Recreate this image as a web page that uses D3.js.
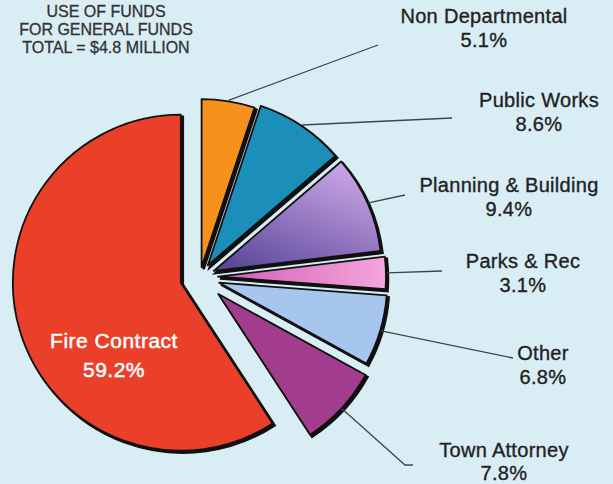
<!DOCTYPE html>
<html>
<head>
<meta charset="utf-8">
<title>Use of Funds</title>
<script src="https://d3js.org/d3.v7.min.js"></script>
<style>
  body { margin: 0; background: #d9edf5; }
  svg { display: block; }
  text { font-family: "Liberation Sans", Arial, sans-serif; }
</style>
</head>
<body>
<div id="chart"></div>
<script>
// data
var departments = ["Non Departmental", "Public Works", "Planning & Building", "Parks & Rec", "Other", "Town Attorney", "Fire Contract"];
var shares = [5.1, 8.6, 9.4, 3.1, 6.8, 7.8, 59.2];
var titleLines = ["USE OF FUNDS", "FOR GENERAL FUNDS", "TOTAL = $4.8 MILLION"];

// styling / layout
var fills = ["#f7911e", "#1b8fb9", "url(#gradPlan)", "url(#gradParks)", "#a6c6ee", "#a23d8d", "#ea3f29"];
var explode = [10, 14, 15, 18, 20, 25, 20];
// label centre x, first baseline y, leader end x, leader end y
var labelPos = [[484, 23, 378, 45], [539, 107, 452, 118], [509, 192, 405, 195], [523, 268, 442, 271], [543, 360, 513, 358], [504, 457, 413, 465]];

var width = 613, height = 484;
var cx = 200, cy = 277, R = 168;

var svg = d3.select("#chart").append("svg")
    .attr("width", width)
    .attr("height", height);

svg.append("rect").attr("width", width).attr("height", height).style("fill", "#d9edf5");

var defs = svg.append("defs");
var g1 = defs.append("linearGradient").attr("id", "gradPlan")
    .attr("x1", "0.8").attr("y1", "0").attr("x2", "0.2").attr("y2", "1");
g1.append("stop").attr("offset", "0").style("stop-color", "#cfa8e8");
g1.append("stop").attr("offset", "1").style("stop-color", "#5d4a9c");
var g2 = defs.append("linearGradient").attr("id", "gradParks")
    .attr("x1", "1").attr("y1", "0").attr("x2", "0").attr("y2", "0");
g2.append("stop").attr("offset", "0").style("stop-color", "#f4a6dc");
g2.append("stop").attr("offset", "1").style("stop-color", "#d35cb4");

var pie = d3.pie().sort(null).value(function(d) { return d; }).startAngle(0).endAngle(2 * Math.PI);
var arcs = pie(shares);
var arc = d3.arc().innerRadius(0).outerRadius(R);

function offset(d, i) {
  var a = (d.startAngle + d.endAngle) / 2;
  return [cx + explode[i] * Math.sin(a), cy - explode[i] * Math.cos(a)];
}

var slices = svg.selectAll(".slice")
    .data(arcs)
    .enter()
    .append("g")
    .attr("class", "slice")
    .attr("transform", function(d, i) { var o = offset(d, i); return "translate(" + o[0] + "," + o[1] + ")"; });

// dark shadow edge
slices.append("path")
    .attr("d", arc)
    .attr("transform", "translate(2,2)")
    .style("fill", "#111")
    .style("stroke", "#111")
    .style("stroke-width", 2.5);

slices.append("path")
    .attr("d", arc)
    .style("fill", function(d, i) { return fills[i]; })
    .style("stroke", "#111")
    .style("stroke-width", 1.8)
    .style("stroke-linejoin", "round");

// leader lines
var outside = arcs.slice(0, 6);
svg.selectAll(".leader")
    .data(outside)
    .enter()
    .append("polyline")
    .attr("points", function(d, i) {
      var a = (d.startAngle + d.endAngle) / 2;
      var o = offset(d, i);
      var sx = o[0] + (R + 1) * Math.sin(a), sy = o[1] - (R + 1) * Math.cos(a);
      var p = labelPos[i];
      if (i == 5) return sx + "," + sy + " " + (p[2] - 8) + "," + p[3] + " " + p[2] + "," + p[3];
      return sx + "," + sy + " " + p[2] + "," + p[3];
    })
    .style("fill", "none")
    .style("stroke", "#444")
    .style("stroke-width", 1.3);

// outside labels
var lbl = svg.selectAll(".lbl")
    .data(outside)
    .enter()
    .append("text")
    .attr("text-anchor", "middle")
    .style("font-size", "20px")
    .style("letter-spacing", "0.3px")
    .style("fill", "#222")
    .style("stroke", "#222")
    .style("stroke-width", 0.35);
lbl.append("tspan")
    .attr("x", function(d, i) { return labelPos[i][0]; })
    .attr("y", function(d, i) { return labelPos[i][1]; })
    .text(function(d, i) { return departments[i]; });
lbl.append("tspan")
    .attr("x", function(d, i) { return labelPos[i][0]; })
    .attr("y", function(d, i) { return labelPos[i][1] + (i == 5 ? 23 : 24); })
    .text(function(d, i) { return shares[i].toFixed(1) + "%"; });

// fire contract label inside
var fire = svg.append("text")
    .attr("text-anchor", "middle")
    .style("font-size", "21px")
    .style("letter-spacing", "0.5px")
    .style("fill", "#fff")
    .style("stroke", "#fff")
    .style("stroke-width", 0.5);
fire.append("tspan").attr("x", 114).attr("y", 348).text(departments[6]);
fire.append("tspan").attr("x", 114).attr("y", 377).text(shares[6].toFixed(1) + "%");

// title
svg.selectAll(".title")
    .data(titleLines)
    .enter()
    .append("text")
    .attr("x", 106)
    .attr("y", function(d, i) { return 17 + i * 18; })
    .attr("text-anchor", "middle")
    .style("font-size", "16px")
    .style("fill", "#333")
    .style("stroke", "#333")
    .style("stroke-width", 0.3)
    .text(function(d) { return d; });
</script>
</body>
</html>
